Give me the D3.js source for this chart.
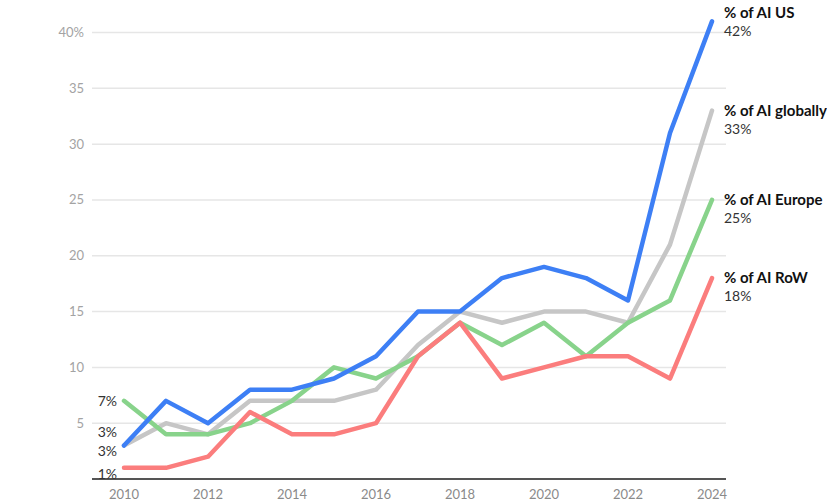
<!DOCTYPE html>
<html>
<head>
<meta charset="utf-8">
<script src="https://cdn.jsdelivr.net/npm/d3@7"></script>
<style>
  html, body { margin: 0; padding: 0; background: #fff; }
  svg { display: block; font-family: "Source Sans Pro", Lato, "Noto Sans", sans-serif; }
</style>
</head>
<body>
<svg id="chart" width="827" height="503"></svg>
<script>
const years = [2010,2011,2012,2013,2014,2015,2016,2017,2018,2019,2020,2021,2022,2023,2024];
const usValues      = [3,7,5,8,8,9,11,15,15,18,19,18,16,31,41];
const globalValues  = [3,5,4,7,7,7,8,12,15,14,15,15,14,21,33];
const europeValues  = [7,4,4,5,7,10,9,11,14,12,14,11,14,16,25];
const rowValues     = [1,1,2,6,4,4,5,11,14,9,10,11,11,9,18];
const seriesNames   = ["% of AI globally","% of AI Europe","% of AI RoW","% of AI US"];
const endLabels     = ["33%","25%","18%","42%"];
const endLabelValues= [33,25,18,42];
const startLabels   = ["3%","7%","1%","3%"];
const yTicks = [5,10,15,20,25,30,35,40];
const yTickLabels = ["5","10","15","20","25","30","35","40%"];
const xTicks = [2010,2012,2014,2016,2018,2020,2022,2024];

const seriesValues = [globalValues, europeValues, rowValues, usValues];
const colors = ["#c6c6c6", "#88d38b", "#fb7d7d", "#3d7ff5"];
const startOffsets = [-13, 0, 6, 6];

const svg = d3.select("#chart");
const x = d3.scaleLinear().domain([2010, 2024]).range([124, 712]);
const y = d3.scaleLinear().domain([0, 40]).range([479, 32.5]);

// gridlines
svg.append("g").selectAll("line").data(yTicks).join("line")
  .attr("x1", 92).attr("x2", 726)
  .attr("y1", d => y(d)).attr("y2", d => y(d))
  .attr("stroke", "#e6e6e6").attr("stroke-width", 1.5);

// y tick labels
svg.append("g").selectAll("text").data(yTicks).join("text")
  .attr("x", 84).attr("y", d => y(d)).attr("dy", "0.35em")
  .attr("text-anchor", "end").attr("fill", "#a3a3a3").attr("font-size", 13)
  .text((d, i) => yTickLabels[i]);

// x axis baseline
svg.append("line").attr("x1", 92).attr("x2", 726)
  .attr("y1", y(0)).attr("y2", y(0))
  .attr("stroke", "#555").attr("stroke-width", 2);

// x tick labels
svg.append("g").selectAll("text").data(xTicks).join("text")
  .attr("x", d => x(d)).attr("y", 494).attr("dy", "0.35em")
  .attr("text-anchor", "middle").attr("fill", "#8a8a8a").attr("font-size", 13)
  .text(d => d);

// lines
const line = d3.line().x((d, i) => x(years[i])).y(d => y(d));
svg.append("g").selectAll("path").data(seriesValues).join("path")
  .attr("d", d => line(d))
  .attr("fill", "none")
  .attr("stroke", (d, i) => colors[i])
  .attr("stroke-width", 4.5)
  .attr("stroke-linejoin", "round")
  .attr("stroke-linecap", "round");

// start labels
svg.append("g").selectAll("text").data(seriesValues).join("text")
  .attr("x", 117).attr("y", (d, i) => y(d[0]) + startOffsets[i]).attr("dy", "0.35em")
  .attr("text-anchor", "end").attr("fill", "#333").attr("font-size", 14)
  .text((d, i) => startLabels[i]);

// end labels
const endG = svg.append("g").selectAll("g").data(seriesNames).join("g")
  .attr("transform", (d, i) => `translate(724, ${Math.max(13, y(endLabelValues[i]))})`);
endG.append("text").attr("dy", "0.35em").attr("font-weight", "bold")
  .attr("font-size", 15).attr("fill", "#111").text(d => d);
endG.append("text").attr("y", 18).attr("dy", "0.35em")
  .attr("font-size", 14).attr("fill", "#333").text((d, i) => endLabels[i]);
</script>
</body>
</html>
